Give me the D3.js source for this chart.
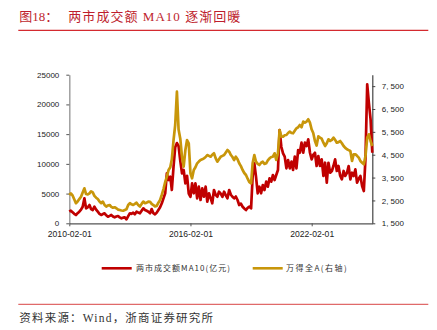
<!DOCTYPE html>
<html><head><meta charset="utf-8">
<script src="https://cdn.jsdelivr.net/npm/d3@7"></script>
<style>body{margin:0;background:#fff} svg{display:block}</style>
</head><body>
<svg id="c" width="437" height="330"></svg>
<script>
// Monthly categories: 2010-02 .. 2025-02
const months = d3.timeMonth.range(new Date(2010, 1, 1), new Date(2025, 2, 1));

// 两市成交额MA10 (亿元), left axis
const turnoverMA10 = [
  1950, 2120, 1850, 1600, 1400, 1700, 1950, 2300, 2790, 4200, 2520, 2700,
  3080, 2400, 2240, 2790, 2300, 1950, 1600, 1400, 1550, 1680, 1350, 1110,
  1250, 1400, 1150, 1010, 1150, 1230, 1000, 840, 950, 1010, 670, 1200,
  1680, 1600, 1780, 1500, 1950, 1800, 1680, 2100, 2520, 2240, 2100, 1950,
  1700, 2400, 1700, 1500, 1800, 2240, 2700, 3360, 4200, 5050, 8410, 7280,
  7840, 5600, 9520, 12800, 13500, 13000, 10500, 8400, 8970, 6730, 8000, 5000,
  4470, 6730, 5050, 6730, 4200, 6160, 3920, 5890, 4470, 6160, 3630, 5050,
  4200, 3360, 5600, 4800, 4470, 5320, 5000, 4470, 5320, 4700, 4200, 5600,
  4800, 4470, 4200, 4500, 3920, 3080, 3300, 2790, 2500, 2240, 2600, 2790,
  2520, 7840, 10090, 7840, 5050, 6160, 5050, 6440, 5600, 7000, 6160, 7570,
  7000, 8120, 7280, 8120, 8970, 15700, 12880, 11770, 11210, 9250, 10650, 9250,
  10370, 8970, 11210, 9250, 12330, 11875, 13560, 11875, 13560, 13000, 14130, 11875,
  10760, 11500, 11875, 9640, 11320, 9640, 10760, 7960, 10190, 6830, 10190, 8510,
  8800, 9640, 10760, 8800, 9640, 8000, 7400, 8800, 7960, 8500, 9640, 7400,
  8510, 7960, 9080, 6830, 7500, 7960, 6270, 5430, 11000, 23380, 20280, 17490,
  11875
];

// 万得全A, right axis
const windAllA = [
  2740, 2810, 2720, 2550, 2380, 2450, 2560, 2660, 2850, 3030, 2780, 2760,
  2810, 2900, 2850, 2700, 2620, 2560, 2450, 2380, 2450, 2300, 2230, 2280,
  2300, 2220, 2180, 2200, 2160, 2100, 2080, 2060, 2050, 2080, 2110, 2300,
  2380, 2330, 2300, 2350, 2400, 2300, 2230, 2350, 2450, 2380, 2400, 2450,
  2440, 2350, 2300, 2240, 2260, 2400, 2520, 2750, 3000, 3300, 3540, 3830,
  3950, 4300, 5143, 5800, 7256, 5600, 5200, 4400, 3976, 4706, 5143, 4999,
  3687, 3468, 3831, 3950, 4124, 4200, 4269, 4300, 4343, 4400, 4487, 4450,
  4413, 4500, 4562, 4350, 4194, 4300, 4413, 4450, 4487, 4600, 4706, 4632,
  4487, 4400, 4269, 4413, 4300, 4124, 4000, 3831, 3700, 3613, 3450, 3300,
  3250, 4124, 4487, 4194, 4100, 4050, 4150, 4194, 4100, 4124, 4250, 4343,
  4400, 4413, 4562, 4269, 4562, 5581, 5300, 5289, 5350, 5362, 5450, 5508,
  5450, 5437, 5550, 5655, 5700, 5800, 5700, 5950, 5900, 5950, 6050, 5900,
  5600, 5450, 5100, 4900, 5300, 5245, 5200, 5025, 4881, 5000, 5174, 5100,
  5150, 5245, 5150, 5025, 5050, 5100, 5000, 4881, 4800, 4737, 4700, 4662,
  4225, 4518, 4518, 4450, 4370, 4225, 4150, 4080, 4444, 5245, 5393, 5100,
  4881
];

const leftTicks = [0, 5000, 10000, 15000, 20000, 25000];
const rightTicks = [1500, 2500, 3500, 4500, 5500, 6500, 7500];
const xTickLabels = ["2010-02-01", "2016-02-01", "2022-02-01"];
const seriesNames = ["两市成交额MA10(亿元)", "万得全A(右轴)"];
const titlePrefix = "图18：";
const titleText = "两市成交额 MA10 逐渐回暖";
const sourceText = "资料来源：Wind，浙商证券研究所";

const RED = "#C00000", GOLD = "#C8960A";
const svg = d3.select("#c");
const L = 69.3, R = 372.3, T = 74.7, B = 223.3;

const x = d3.scaleTime().domain([months[0], months[months.length - 1]]).range([L, R]);
const yL = d3.scaleLinear().domain([0, 25000]).range([B, T]);
const yR = d3.scaleLinear().domain([1500, 8000]).range([B, T]);

// title
const serif = "'Liberation Serif','Noto Sans CJK SC',serif";
svg.append("text").attr("x", 19.3).attr("y", 20.8).attr("fill", "#BE1E2D")
  .style("font-family", serif).style("font-size", "13px").text(titlePrefix);
svg.append("text").attr("x", 68.3).attr("y", 20.8).attr("fill", "#BE1E2D")
  .attr("textLength", 172).attr("lengthAdjust", "spacing")
  .style("font-family", serif).style("font-size", "13px").text(titleText);
svg.append("line").attr("x1", 18.3).attr("x2", 428.3).attr("y1", 30.3).attr("y2", 30.3)
  .attr("stroke", "#D42A2F").attr("stroke-width", 1.2);

// axes
const sans = "'Liberation Sans',Arial,sans-serif";
const fmtR = d => d3.format(",")(d).replace(",", ", ");

const gL = svg.append("g").attr("transform", `translate(${L},0)`)
  .call(d3.axisLeft(yL).tickValues(leftTicks).tickFormat(d3.format("d")).tickSize(3).tickSizeOuter(0).tickPadding(7));
gL.select(".domain").attr("stroke", "#999").attr("stroke-width", 1.4);
gL.selectAll(".tick line").attr("stroke", "#555");

const gR = svg.append("g").attr("transform", `translate(${R},0)`)
  .call(d3.axisRight(yR).tickValues(rightTicks).tickFormat(fmtR).tickSize(3).tickSizeOuter(0).tickPadding(6.4));
gR.select(".domain").attr("stroke", "#444").attr("stroke-width", 1.2);
gR.selectAll(".tick line").attr("stroke", "#444");

const xTickDates = xTickLabels.map(s => d3.timeParse("%Y-%m-%d")(s));
const gB = svg.append("g").attr("transform", `translate(0,${B})`)
  .call(d3.axisBottom(x).tickValues(xTickDates).tickFormat(d3.timeFormat("%Y-%m-%d")).tickSize(3).tickSizeOuter(0).tickPadding(4.2));
gB.select(".domain").attr("stroke", "#555").attr("stroke-width", 1.2);
gB.selectAll(".tick line").attr("stroke", "#555");

[gL, gR].forEach(g => g.selectAll("text").style("font-family", sans).style("font-size", "8px").attr("fill", "#222"));
gB.selectAll("text").style("font-family", sans).style("font-size", "8.6px").attr("fill", "#222");

// lines
const lineL = d3.line().x((d, i) => x(months[i])).y(d => yL(d));
const lineR = d3.line().x((d, i) => x(months[i])).y(d => yR(d));
svg.append("path").datum(turnoverMA10).attr("d", lineL).attr("fill", "none")
  .attr("stroke", RED).attr("stroke-width", 2.7).attr("stroke-linejoin", "round");
svg.append("path").datum(windAllA).attr("d", lineR).attr("fill", "none")
  .attr("stroke", GOLD).attr("stroke-width", 2.7).attr("stroke-linejoin", "round");

// legend
const legend = [
  {name: seriesNames[0], color: RED, x: 101.7, tx: 136, len: 94},
  {name: seriesNames[1], color: GOLD, x: 252.7, tx: 286, len: 60.7}
];
legend.forEach(l => {
  svg.append("line").attr("x1", l.x).attr("x2", l.x + 30).attr("y1", 268.3).attr("y2", 268.3)
    .attr("stroke", l.color).attr("stroke-width", 2.6);
  svg.append("text").attr("x", l.tx).attr("y", 271.2).attr("fill", "#333")
    .attr("textLength", l.len).attr("lengthAdjust", "spacing")
    .style("font-family", "'Noto Sans CJK SC',sans-serif").style("font-size", "8px").text(l.name);
});

// source
svg.append("line").attr("x1", 18.3).attr("x2", 428.3).attr("y1", 304.3).attr("y2", 304.3)
  .attr("stroke", "#E06A6A").attr("stroke-width", 1.2);
svg.append("text").attr("x", 19.3).attr("y", 322).attr("fill", "#333")
  .attr("textLength", 193.7).attr("lengthAdjust", "spacing")
  .style("font-family", serif).style("font-size", "11.5px").text(sourceText);
</script>
</body></html>
